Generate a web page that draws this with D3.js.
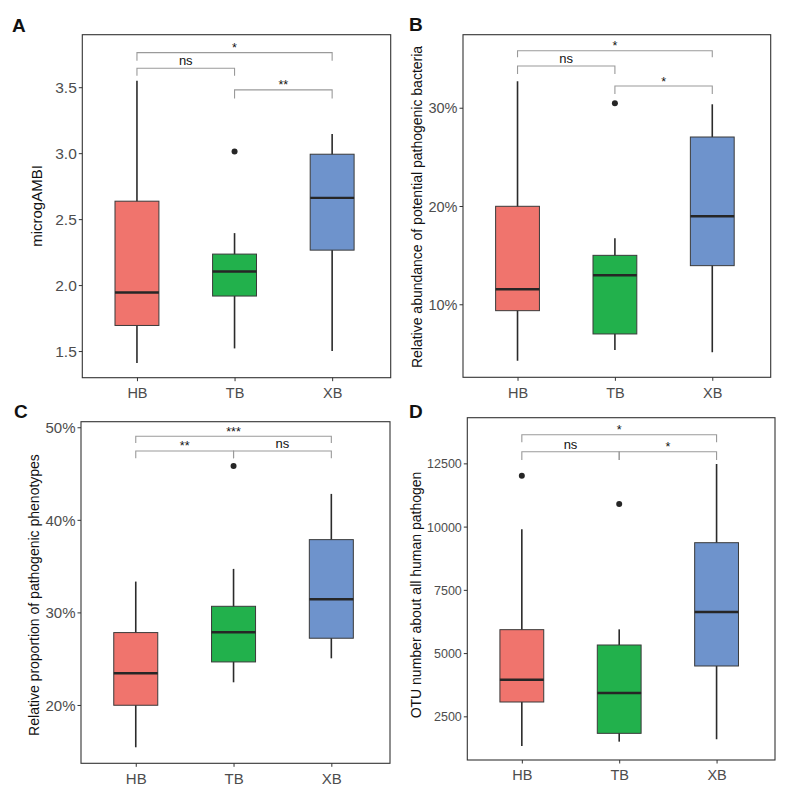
<!DOCTYPE html>
<html><head><meta charset="utf-8">
<script src="https://cdn.jsdelivr.net/npm/d3@7"></script>
<style>body{margin:0;background:#fff}svg{display:block;font-family:Arial,"Liberation Sans",sans-serif}</style>
</head><body>
<svg id="c" width="788" height="791"></svg>
<script>
const groups = ["HB","TB","XB"];
const fills = ["#F0746D","#22B14C","#6E93CC"];

// Panel A: microgAMBI
const aLow  = [1.41, 1.52, 1.50];
const aQ1   = [1.694, 1.917, 2.265];
const aMed  = [1.944, 2.103, 2.661];
const aQ3   = [2.636, 2.235, 2.992];
const aHigh = [3.548, 2.394, 3.146];
const aOut  = [[], [3.012], []];
const aTicks = [1.5, 2.0, 2.5, 3.0, 3.5];
const aTickLabels = ["1.5","2.0","2.5","3.0","3.5"];
const aSig = [
  {a:"HB", b:"XB", y:3.762, tip:3.700, label:"*"},
  {a:"HB", b:"TB", y:3.644, tip:3.586, label:"ns"},
  {a:"TB", b:"XB", y:3.480, tip:3.414, label:"**"}
];

// Panel B: relative abundance of potential pathogenic bacteria (%)
const bLow  = [4.26, 5.35, 5.12];
const bQ1   = [9.35, 6.98, 13.93];
const bMed  = [11.53, 12.95, 18.95];
const bQ3   = [19.97, 14.98, 27.02];
const bHigh = [32.69, 16.71, 30.35];
const bOut  = [[], [30.45], []];
const bTicks = [10, 20, 30];
const bTickLabels = ["10%","20%","30%"];
const bSig = [
  {a:"HB", b:"XB", y:35.80, tip:35.13, label:"*"},
  {a:"HB", b:"TB", y:34.24, tip:33.43, label:"ns"},
  {a:"TB", b:"XB", y:32.21, tip:31.39, label:"*"}
];

// Panel C: relative proportion of pathogenic phenotypes (%)
const cLow  = [15.43, 22.45, 25.04];
const cQ1   = [19.97, 24.65, 27.21];
const cMed  = [23.42, 27.85, 31.42];
const cQ3   = [27.82, 30.66, 37.86];
const cHigh = [33.33, 34.70, 42.80];
const cOut  = [[], [45.82], []];
const cTicks = [20, 30, 40, 50];
const cTickLabels = ["20%","30%","40%","50%"];
const cSig = [
  {a:"HB", b:"XB", y:49.03, tip:48.31, label:"***"},
  {a:"HB", b:"TB", y:47.44, tip:46.65, label:"**"},
  {a:"TB", b:"XB", y:47.44, tip:46.65, label:"ns"}
];

// Panel D: OTU number about all human pathogen
const dLow  = [1328, 1499, 1591];
const dQ1   = [3067, 1828, 4490];
const dMed  = [3949, 3422, 6624];
const dQ3   = [5926, 5320, 9364];
const dHigh = [9891, 5939, 12474];
const dOut  = [[12013], [10893], []];
const dTicks = [2500, 5000, 7500, 10000, 12500];
const dTickLabels = ["2500","5000","7500","10000","12500"];
const dSig = [
  {a:"HB", b:"XB", y:13633, tip:13330, label:"*"},
  {a:"HB", b:"TB", y:12961, tip:12632, label:"ns"},
  {a:"TB", b:"XB", y:12961, tip:12632, label:"*"}
];

const svg = d3.select("#c");

function panel(o) {
  const g = svg.append("g");
  const x = d3.scaleLinear().domain([0.44, 3.6]).range([o.x0, o.x1]);
  const y = d3.scaleLinear().domain(o.domain).range([o.y1, o.y0]);
  const xp = name => x(groups.indexOf(name) + 1);
  const bw = x(0.45) - x(0);

  // axes
  const yAxis = d3.axisLeft(y).tickValues(o.ticks).tickFormat((d,i) => o.tickLabels[i]).tickSize(3.5).tickPadding(2);
  const ya = g.append("g").attr("transform", `translate(${o.x0},0)`).call(yAxis);
  const xAxis = d3.axisBottom(x).tickValues([1,2,3]).tickFormat((d,i) => groups[i]).tickSize(3.5).tickPadding(3);
  const xa = g.append("g").attr("transform", `translate(0,${o.y1})`).call(xAxis);
  [ya, xa].forEach(a => {
    a.select(".domain").remove();
    a.selectAll(".tick line").attr("stroke", "#333").attr("stroke-width", 1);
  });
  ya.selectAll("text").attr("fill", "#4D4D4D").style("font-size", o.yfs + "px").attr("dy", "0.36em");
  xa.selectAll("text").attr("fill", "#4D4D4D").style("font-size", o.xfs + "px").attr("dy", "0.95em");

  // boxes
  groups.forEach((name, i) => {
    const cx = xp(name);
    g.append("line").attr("x1", cx).attr("x2", cx).attr("y1", y(o.low[i])).attr("y2", y(o.high[i]))
      .attr("stroke", "#2b2b2b").attr("stroke-width", 1.6);
    g.append("rect").attr("x", cx - bw/2).attr("width", bw)
      .attr("y", y(o.q3[i])).attr("height", y(o.q1[i]) - y(o.q3[i]))
      .attr("fill", fills[i]).attr("stroke", "#3a3a3a").attr("stroke-width", 1);
    g.append("line").attr("x1", cx - bw/2).attr("x2", cx + bw/2).attr("y1", y(o.med[i])).attr("y2", y(o.med[i]))
      .attr("stroke", "#262626").attr("stroke-width", 2.4);
    o.out[i].forEach(v => {
      g.append("circle").attr("cx", cx).attr("cy", y(v)).attr("r", 3).attr("fill", "#262626");
    });
  });

  // significance brackets
  o.sig.forEach(s => {
    const xa_ = xp(s.a), xb_ = xp(s.b);
    g.append("path")
      .attr("d", `M${xa_},${y(s.tip)}V${y(s.y)}H${xb_}V${y(s.tip)}`)
      .attr("fill", "none").attr("stroke", "#9a9a9a").attr("stroke-width", 1.1);
    const isNs = s.label === "ns";
    g.append("text").attr("x", (xa_ + xb_)/2).attr("y", y(s.y) - (isNs ? 3 : 0.5))
      .attr("text-anchor", "middle").attr("fill", "#111")
      .style("font-size", isNs ? "13px" : "12.5px").text(s.label);
  });

  // frame
  g.append("rect").attr("x", o.x0).attr("y", o.y0).attr("width", o.x1 - o.x0).attr("height", o.y1 - o.y0)
    .attr("fill", "none").attr("stroke", "#333").attr("stroke-width", 1.1);

  // axis title
  g.append("text").attr("transform", `translate(${o.tx},${o.ty}) rotate(-90)`)
    .attr("text-anchor", "middle").attr("fill", "#111").style("font-size", o.tfs + "px").text(o.title);

  // panel letter
  g.append("text").attr("x", o.lx).attr("y", o.ly).style("font-size", "19px").style("font-weight", "bold")
    .attr("fill", "#111").text(o.letter);
}

panel({letter:"A", lx:12, ly:32, x0:82.3, x1:390.7, y0:34.7, y1:377.7, domain:[1.298, 3.898],
  low:aLow, q1:aQ1, med:aMed, q3:aQ3, high:aHigh, out:aOut, ticks:aTicks, tickLabels:aTickLabels, sig:aSig,
  yfs:15.5, xfs:14.5, title:"microgAMBI", tfs:15, tx:42, ty:206});
panel({letter:"B", lx:409, ly:31, x0:463, x1:770.7, y0:34.7, y1:377.3, domain:[2.57, 37.43],
  low:bLow, q1:bQ1, med:bMed, q3:bQ3, high:bHigh, out:bOut, ticks:bTicks, tickLabels:bTickLabels, sig:bSig,
  yfs:14.5, xfs:14.5, title:"Relative abundance of potential pathogenic bacteria", tfs:14, tx:422, ty:207});
panel({letter:"C", lx:14, ly:418, x0:81, x1:390, y0:421.7, y1:763.3, domain:[13.7, 50.6],
  low:cLow, q1:cQ1, med:cMed, q3:cQ3, high:cHigh, out:cOut, ticks:cTicks, tickLabels:cTickLabels, sig:cSig,
  yfs:15, xfs:15, title:"Relative proportion of pathogenic phenotypes", tfs:14, tx:39, ty:595});
panel({letter:"D", lx:409, ly:418, x0:467.3, x1:775, y0:417.7, y1:760, domain:[774, 14305],
  low:dLow, q1:dQ1, med:dMed, q3:dQ3, high:dHigh, out:dOut, ticks:dTicks, tickLabels:dTickLabels, sig:dSig,
  yfs:12.5, xfs:14.5, title:"OTU number about all human pathogen", tfs:14, tx:421, ty:595});
</script>
</body></html>
